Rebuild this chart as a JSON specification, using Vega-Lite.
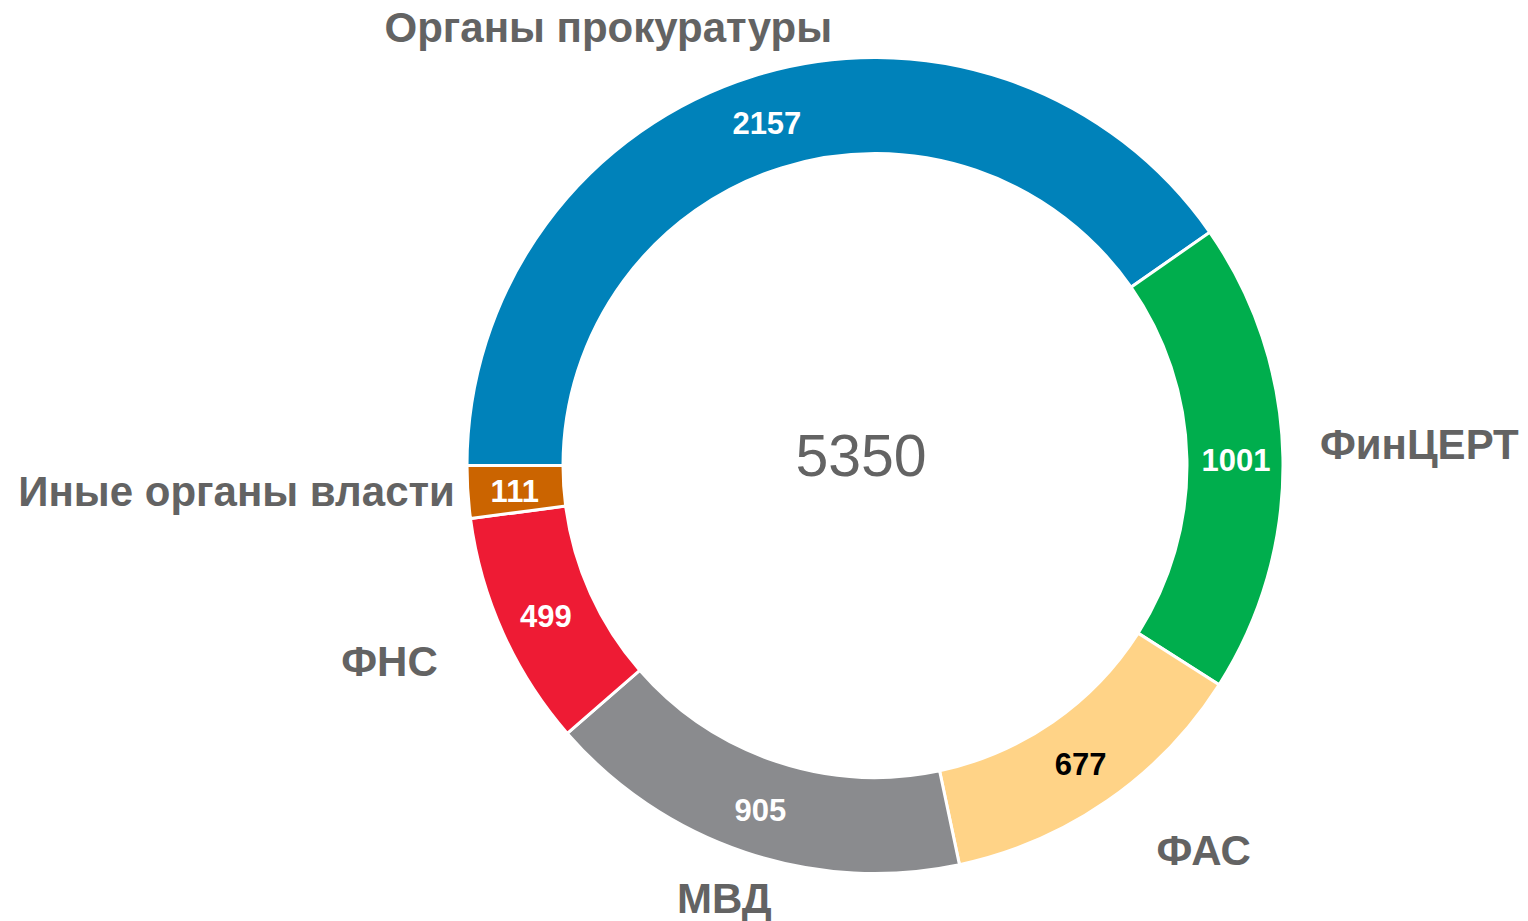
{
  "$schema": "https://vega.github.io/schema/vega-lite/v6.json",
  "width": 1306,
  "height": 911,
  "autosize": "none",
  "padding": {"left": 222, "top": 10, "right": 0, "bottom": 0},
  "background": "white",
  "config": {"view": {"stroke": null}, "font": "Liberation Sans"},
  "data": {"values": [
    {"idx": 1, "cat": "Органы прокуратуры", "value": 2157},
    {"idx": 2, "cat": "ФинЦЕРТ", "value": 1001},
    {"idx": 3, "cat": "ФАС", "value": 677},
    {"idx": 4, "cat": "МВД", "value": 905},
    {"idx": 5, "cat": "ФНС", "value": 499},
    {"idx": 6, "cat": "Иные органы власти", "value": 111}
  ]},
  "layer": [
    {
      "mark": {"type": "arc", "innerRadius": 312, "outerRadius": 408, "stroke": "white", "strokeWidth": 3},
      "encoding": {
        "theta": {"field": "value", "type": "quantitative", "stack": true, "scale": {"range": [4.71238898, 10.99557429]}},
        "order": {"field": "idx", "type": "quantitative", "sort": "ascending"},
        "color": {"field": "cat", "type": "nominal", "legend": null,
          "scale": {"domain": ["Органы прокуратуры", "ФинЦЕРТ", "ФАС", "МВД", "ФНС", "Иные органы власти"],
                    "range": ["#0082BA", "#00AE4D", "#FFD387", "#8A8B8E", "#EE1B34", "#CB6400"]}}
      }
    },
    {
      "mark": {"type": "text", "radius": 361, "fontSize": 31, "fontWeight": "bold", "align": "center", "baseline": "middle", "dy": 4},
      "encoding": {
        "theta": {"field": "value", "type": "quantitative", "stack": true},
        "order": {"field": "idx", "type": "quantitative", "sort": "ascending"},
        "text": {"field": "value", "type": "quantitative", "format": "d"},
        "color": {"condition": {"test": "datum.cat === 'ФАС'", "value": "#000000"}, "value": "#FFFFFF"}
      }
    },
    {
      "mark": {"type": "text", "radius": 460, "fontSize": 42, "fontWeight": "bold", "align": "center", "baseline": "middle", "dx": -129, "dy": 2, "color": "#636363"},
      "encoding": {
        "theta": {"field": "value", "type": "quantitative", "stack": true},
        "order": {"field": "idx", "type": "quantitative", "sort": "ascending"},
        "text": {"condition": {"test": "datum.idx === 1", "field": "cat", "type": "nominal"}, "value": ""}
      }
    },
    {
      "mark": {"type": "text", "radius": 445, "fontSize": 42, "fontWeight": "bold", "align": "left", "baseline": "middle", "dy": -10, "color": "#636363"},
      "encoding": {
        "theta": {"field": "value", "type": "quantitative", "stack": true},
        "order": {"field": "idx", "type": "quantitative", "sort": "ascending"},
        "text": {"condition": {"test": "datum.idx === 2", "field": "cat", "type": "nominal"}, "value": ""}
      }
    },
    {
      "mark": {"type": "text", "radius": 466, "fontSize": 42, "fontWeight": "bold", "align": "left", "baseline": "middle", "dx": 16, "dy": 3, "color": "#636363"},
      "encoding": {
        "theta": {"field": "value", "type": "quantitative", "stack": true},
        "order": {"field": "idx", "type": "quantitative", "sort": "ascending"},
        "text": {"condition": {"test": "datum.idx === 3", "field": "cat", "type": "nominal"}, "value": ""}
      }
    },
    {
      "mark": {"type": "text", "radius": 456, "fontSize": 42, "fontWeight": "bold", "align": "center", "baseline": "middle", "dx": -6, "dy": 2, "color": "#636363"},
      "encoding": {
        "theta": {"field": "value", "type": "quantitative", "stack": true},
        "order": {"field": "idx", "type": "quantitative", "sort": "ascending"},
        "text": {"condition": {"test": "datum.idx === 4", "field": "cat", "type": "nominal"}, "value": ""}
      }
    },
    {
      "mark": {"type": "text", "radius": 473, "fontSize": 42, "fontWeight": "bold", "align": "right", "baseline": "middle", "dx": -6, "dy": 3, "color": "#636363"},
      "encoding": {
        "theta": {"field": "value", "type": "quantitative", "stack": true},
        "order": {"field": "idx", "type": "quantitative", "sort": "ascending"},
        "text": {"condition": {"test": "datum.idx === 5", "field": "cat", "type": "nominal"}, "value": ""}
      }
    },
    {
      "mark": {"type": "text", "radius": 421, "fontSize": 42, "fontWeight": "bold", "align": "right", "baseline": "middle", "dy": 0, "color": "#636363"},
      "encoding": {
        "theta": {"field": "value", "type": "quantitative", "stack": true},
        "order": {"field": "idx", "type": "quantitative", "sort": "ascending"},
        "text": {"condition": {"test": "datum.idx === 6", "field": "cat", "type": "nominal"}, "value": ""}
      }
    },
    {
      "transform": [{"aggregate": [{"op": "sum", "field": "value", "as": "total"}]}],
      "mark": {"type": "text", "fontSize": 59, "align": "center", "baseline": "middle", "dx": -14, "dy": -8, "color": "#636363"},
      "encoding": {
        "text": {"field": "total", "type": "quantitative", "format": "d"}
      }
    }
  ]
}
